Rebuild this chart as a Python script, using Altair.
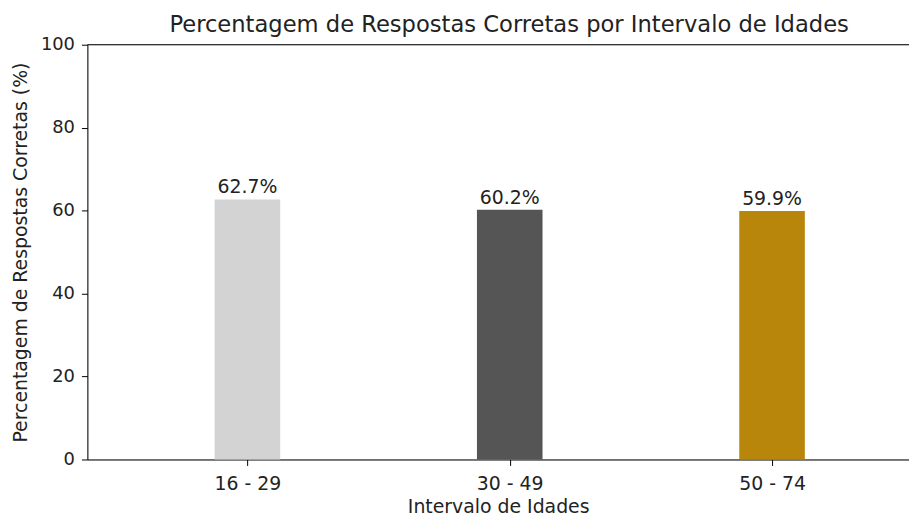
import altair as alt
import pandas as pd

categories = ["16 - 29", "30 - 49", "50 - 74"]
values = [62.7, 60.2, 59.9]
colors = ["#d3d3d3", "#555555", "#b8860b"]
bar_half_width = 0.125

df = pd.DataFrame({
    "cat": categories,
    "val": values,
    "color": colors,
    "idx": list(range(len(categories))),
})
df["x0"] = df["idx"] - bar_half_width
df["x1"] = df["idx"] + bar_half_width
df["label"] = df["val"].map(lambda v: f"{v:.1f}%")

FONT = "DejaVu Sans"
W, H = 828, 418
FS = 19

xscale = alt.Scale(domain=[-0.61, 2.522], nice=False, zero=False, padding=0)
yscale = alt.Scale(domain=[0, 100], nice=False, padding=0)

label_expr = "[" + ",".join(f"'{c}'" for c in categories) + "][datum.value]"

bars = alt.Chart(df).mark_bar().encode(
    x=alt.X("x0:Q", scale=xscale, axis=alt.Axis(
        title="Intervalo de Idades", values=list(range(len(categories))),
        labelExpr=label_expr, grid=False, tickSize=6, labelPadding=9,
        titlePadding=4, labelFontSize=FS, titleFontSize=FS,
        labelFont=FONT, titleFont=FONT, labelColor="#222222", titleColor="#222222",
        domainColor="#000000", tickColor="#000000", titleFontWeight="normal",
    )),
    x2="x1:Q",
    y=alt.Y("val:Q", scale=yscale, axis=alt.Axis(
        title="Percentagem de Respostas Corretas (%)", values=[0, 20, 40, 60, 80, 100],
        grid=False, tickSize=6, labelPadding=7, titlePadding=10,
        labelFontSize=18, titleFontSize=FS, labelFont=FONT, titleFont=FONT,
        labelColor="#222222", titleColor="#222222", domainColor="#000000",
        tickColor="#000000", titleFontWeight="normal",
    )),
    y2=alt.datum(0),
    color=alt.Color("color:N", scale=None),
)

text = alt.Chart(df).mark_text(
    baseline="bottom", dy=-2, font=FONT, fontSize=FS, color="#222222"
).encode(
    x=alt.X("idx:Q", scale=xscale),
    y=alt.Y("val:Q", scale=yscale),
    text="label:N",
)

top = alt.Chart(pd.DataFrame({"y": [100]})).mark_rule(color="#000000", strokeWidth=1).encode(
    y=alt.Y("y:Q", scale=yscale),
    x=alt.value(0),
    x2=alt.value(W),
)

chart = alt.layer(bars, text, top).properties(
    width=W, height=H,
    title=alt.TitleParams(
        "Percentagem de Respostas Corretas por Intervalo de Idades",
        font=FONT, fontSize=22.8, fontWeight="normal", color="#222222",
        anchor="middle", dx=11, offset=-1,
    ),
    autosize=alt.AutoSizeParams(type="none"),
    padding={"left": 80, "top": 35, "right": 0, "bottom": 60},
).configure_view(stroke=None).configure(background="white")

chart.save("out.html", embed_options={"renderer": "svg", "actions": False})
